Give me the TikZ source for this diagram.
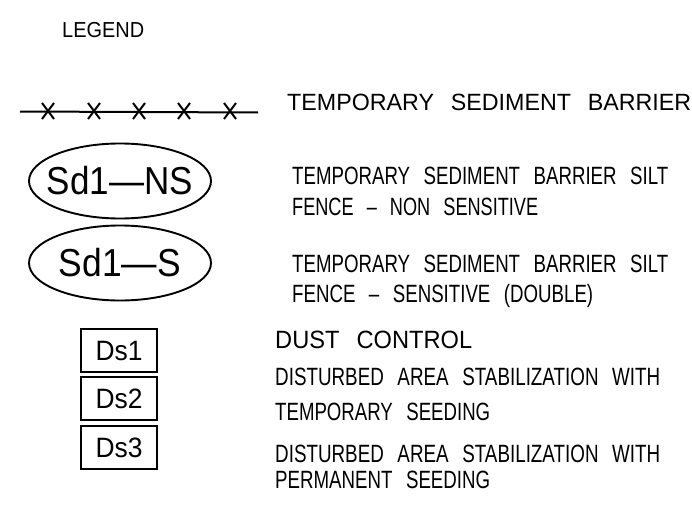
\documentclass[tikz,border=0pt]{standalone}
\usepackage{fontspec}
\setmainfont{Liberation Sans}[WordSpace=2.6]
\usepackage{graphicx}
\usetikzlibrary{shapes.geometric}
\newcommand\fitw[2]{\resizebox{#1pt}{\height}{#2}}
\tikzset{
  lbl/.style={anchor=base west, inner sep=0pt, font=\fontsize{25}{25}\selectfont},
  sdoval/.style={ellipse, draw, line width=1.9pt, minimum width=182pt, minimum height=75pt, inner sep=0pt, font=\fontsize{39}{39}\selectfont},
  dsbox/.style={rectangle, draw, line width=1.9pt, minimum width=76pt, minimum height=43pt, inner sep=0pt, font=\fontsize{28}{28}\selectfont},
  fence/.style={line width=2pt}
}
\begin{document}
\begin{tikzpicture}[x=1pt,y=-1pt]
\useasboundingbox (0,0) rectangle (692,508);
\node[lbl, font=\fontsize{21.7}{21.7}\selectfont] (legend) at (62,37.5) {\fitw{82}{LEGEND}};
% sediment barrier line
\coordinate (fa) at (20,111.5);
\coordinate (fb) at (258,112.5);
\draw[fence] (fa) -- (fb);
\foreach \x in {48,94,139,184,230}{
  \draw[fence] (\x-6,103) -- (\x+6,119) (\x-6,119) -- (\x+6,103);
}
\node[lbl, font=\fontsize{23.5}{23.5}\selectfont] (t1) at (287,110.8) {\fitw{404}{TEMPORARY SEDIMENT BARRIER}};
% ovals
\node[sdoval] (ns) at (120,181) {\makebox[0pt]{\fitw{146}{Sd1—NS}}};
\node[sdoval] (s) at (120,263) {\makebox[0pt]{\fitw{122}{Sd1—S}}};
\node[lbl] (t2a) at (292,184) {\fitw{376}{TEMPORARY SEDIMENT BARRIER SILT}};
\node[lbl] (t2b) at (292,215) {\fitw{246}{FENCE – NON SENSITIVE}};
\node[lbl] (t3a) at (292,272) {\fitw{376}{TEMPORARY SEDIMENT BARRIER SILT}};
\node[lbl] (t3b) at (292,302) {\fitw{301}{FENCE – SENSITIVE (DOUBLE)}};
% boxes
\node[dsbox] (ds1) at (119,350.5) {\fitw{47}{Ds1}};
\node[dsbox] (ds2) at (119,398.5) {\fitw{47}{Ds2}};
\node[dsbox] (ds3) at (119,447.5) {\fitw{47}{Ds3}};
\node[lbl] (d1) at (275,348) {\fitw{197}{DUST CONTROL}};
\node[lbl] (d2a) at (275,385) {\fitw{385}{DISTURBED AREA STABILIZATION WITH}};
\node[lbl] (d2b) at (275,420) {\fitw{215}{TEMPORARY SEEDING}};
\node[lbl] (d3a) at (275,462) {\fitw{385}{DISTURBED AREA STABILIZATION WITH}};
\node[lbl] (d3b) at (275,488) {\fitw{215}{PERMANENT SEEDING}};
\end{tikzpicture}
\end{document}
